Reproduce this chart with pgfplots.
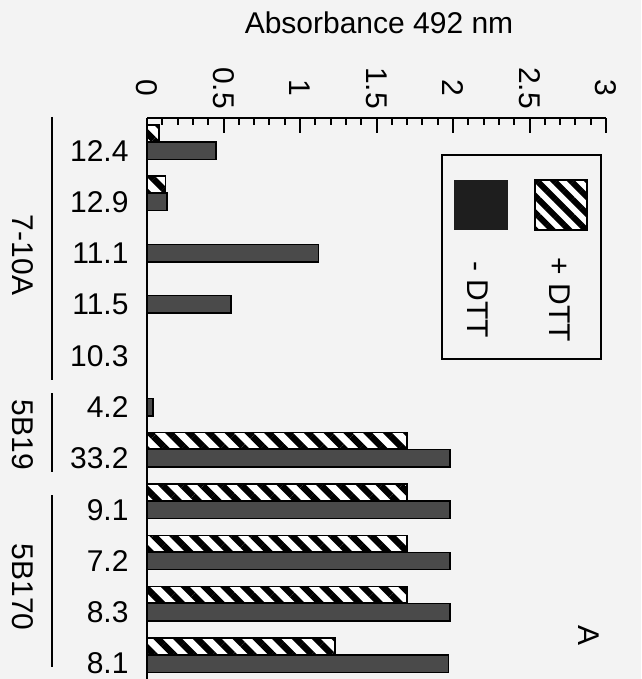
\documentclass[border=0pt]{standalone}
\usepackage{fontspec}
\setmainfont{Liberation Sans}
\usepackage{pgfplots}
\pgfplotsset{compat=1.18}
\usetikzlibrary{patterns.meta}
\definecolor{bg}{HTML}{F3F3F3}
\definecolor{bardark}{HTML}{4A4A4A}
\definecolor{legdark}{HTML}{1E1E1E}
\begin{document}
\begin{tikzpicture}[x=1pt,y=1pt,font=\fontsize{30}{36}\selectfont]
\fill[bg] (0,0) rectangle (641,-679);
\useasboundingbox (0,0) rectangle (641,-679);
\begin{axis}[
  at={(147pt,-118pt)}, anchor=north west,
  scale only axis, width=459pt, height=561pt,
  xmin=0, xmax=3, ymin=-0.634, ymax=10.30, y dir=reverse,
  axis x line*=top, axis y line*=left,
  axis line style={line width=2.5pt, black},
  xtick={0,0.5,1,1.5,2,2.5,3},
  xticklabels={0,0.5,1,1.5,2,2.5,3},
  minor x tick num=4,
  tick align=inside,
  major tick length=15pt, minor tick length=7pt,
  x tick style={line width=2pt, black},
  ytick={0,1,2,3,4,5,6,7,8,9,10},
  yticklabels={12.4,12.9,11.1,11.5,10.3,4.2,33.2,9.1,7.2,8.3,8.1},
  y tick style={draw=none},
  tick label style={font=\fontsize{30}{36}\selectfont},
  xticklabel style={yshift=30pt, rotate=-90, anchor=center},
  yticklabel style={anchor=east, xshift=-15pt},
  clip=false,
]
\addplot[xbar, bar width=0.34, bar shift=0, fill=bardark, draw=black, line width=1.5pt]
  coordinates {(0.45,0) (0.13,1) (1.12,2) (0.55,3) (0,4) (0.04,5) (1.98,6) (1.98,7) (1.98,8) (1.98,9) (1.97,10)};
\addplot[xbar, bar width=0.32, bar shift=-0.34, fill=white, draw=black, line width=1.5pt,
  postaction={pattern={Lines[angle=-45,distance=14pt,line width=6.5pt]}}]
  coordinates {(0.08,0) (0.12,1) (0,2) (0,3) (0,4) (0,5) (1.70,6) (1.70,7) (1.70,8) (1.70,9) (1.23,10)};
\end{axis}
\node at (379,-23) {Absorbance 492 nm};
\draw[line width=2.5pt] (52,-117) -- (52,-380);
\draw[line width=2.5pt] (52,-393) -- (52,-472);
\draw[line width=2.5pt] (52,-495) -- (52,-667);
\node[rotate=-90] at (23,-255) {7-10A};
\node[rotate=-90] at (23,-435) {5B19};
\node[rotate=-90] at (23,-587) {5B170};
\draw[line width=2pt] (442,-155) rectangle (601,-359);
\fill[legdark] (454,-180) rectangle (508,-230);
\draw[line width=2pt, fill=white, postaction={pattern={Lines[angle=-45,distance=12pt,line width=6pt]}}] (535,-180) rectangle (587,-230);
\node[rotate=-90] at (560,-300) {+ DTT};
\node[rotate=-90] at (478,-300) {- DTT};
\node[rotate=-90] at (589,-635) {A};
\end{tikzpicture}
\end{document}
